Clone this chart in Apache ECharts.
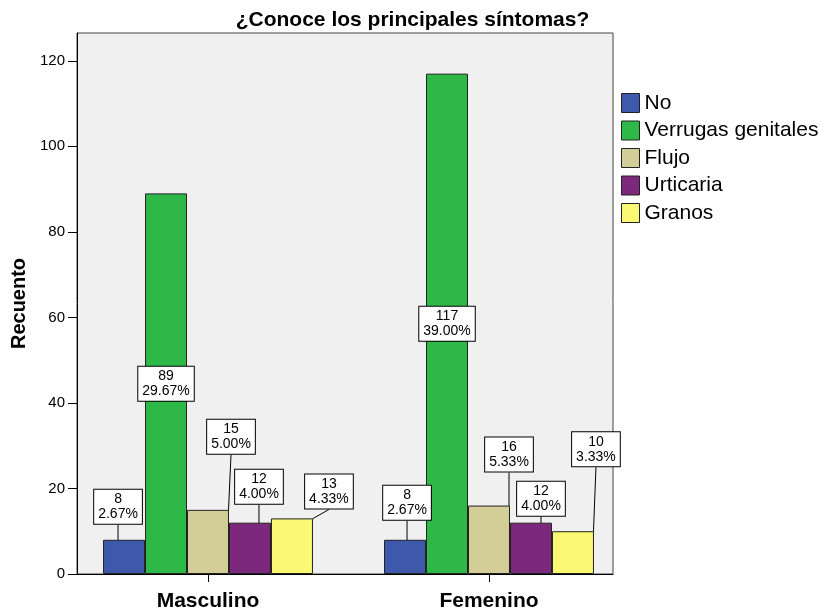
<!DOCTYPE html>
<html>
<head>
<meta charset="utf-8">
<script src="https://cdn.jsdelivr.net/npm/echarts@6/dist/echarts.min.js"></script>
<style>
  html, body { margin: 0; background: #fff; }
  #main { width: 825px; height: 611px; }
</style>
</head>
<body>
<div id="main"></div>
<script>
  // categorias y valores (recuento)
  var categories = ['Masculino', 'Femenino'];
  var seriesNames = ['No', 'Verrugas genitales', 'Flujo', 'Urticaria', 'Granos'];
  var noData = [8, 8];
  var verrugasData = [89, 117];
  var flujoData = [15, 16];
  var urticariaData = [12, 12];
  var granosData = [13, 10];
  var yTicks = [0, 20, 40, 60, 80, 100, 120];

  var allData = [noData, verrugasData, flujoData, urticariaData, granosData];
  var colors = ['#3E58AC', '#2EB848', '#D3CE97', '#7C287D', '#FBF873'];
  var total = 0;
  allData.forEach(function (arr) { arr.forEach(function (v) { total += v; }); });

  // desplazamiento de las etiquetas respecto a la barra (null = dentro)
  var labelShift = [
    [[-6, -16], [2, -20]],
    null,
    [[23, -56], [20, -34]],
    [[9, -19], [10, -7]],
    [[37, -10], [23, -65]]
  ];

  var chart = echarts.init(document.getElementById('main'));
  var font = 'Arial, "Liberation Sans", sans-serif';
  var yMax = 126.5;

  var labelBox = {
    show: true,
    formatter: function (p) {
      return p.value + '\n' + (p.value / total * 100).toFixed(2) + '%';
    },
    backgroundColor: '#fff',
    borderColor: '#000',
    borderWidth: 1,
    padding: [2, 4],
    fontSize: 14,
    lineHeight: 15,
    color: '#000',
    fontFamily: font
  };

  var series = seriesNames.map(function (name, i) {
    var s = {
      name: name,
      type: 'bar',
      xAxisIndex: 1,
      yAxisIndex: 1,
      barGap: 0,
      barCategoryGap: '25.3%',
      data: allData[i],
      itemStyle: { color: colors[i], borderColor: '#222', borderWidth: 1 },
      label: Object.assign({}, labelBox)
    };
    if (labelShift[i]) {
      s.label.position = 'top';
      s.label.distance = 0;
      s.labelLine = { show: true, lineStyle: { color: '#000', width: 1 } };
      s.labelLayout = function (p) {
        var o = labelShift[p.seriesIndex][p.dataIndex];
        return { dx: o[0], dy: o[1] };
      };
    } else {
      s.label.position = 'inside';
    }
    return s;
  });

  var option = {
    animation: false,
    backgroundColor: '#fff',
    title: {
      text: '¿Conoce los principales síntomas?',
      left: 'center',
      top: 5,
      textStyle: { fontSize: 21, fontWeight: 'bold', color: '#000', fontFamily: font }
    },
    legend: {
      orient: 'vertical',
      left: 621,
      top: 91,
      padding: 0,
      itemWidth: 18,
      itemHeight: 19,
      itemGap: 3.5,
      icon: 'rect',
      itemStyle: { borderColor: '#222', borderWidth: 1 },
      textStyle: { fontSize: 21, color: '#000', fontFamily: font, lineHeight: 24 },
      data: seriesNames
    },
    grid: [
      {
        left: 77, right: 212, top: 33, bottom: 37,
        outerBoundsMode: 'none',
        show: true, backgroundColor: '#f0f0f0',
        borderColor: '#444', borderWidth: 1
      },
      { left: 67.5, right: 195.5, top: 33, bottom: 37, outerBoundsMode: 'none' }
    ],
    xAxis: [
      {
        gridIndex: 0, type: 'category', data: categories,
        axisLine: { show: true, lineStyle: { color: '#000' } },
        axisTick: { show: false }, axisLabel: { show: false }
      },
      {
        gridIndex: 1, type: 'category', data: categories,
        axisLine: { show: false },
        axisTick: { show: true, alignWithLabel: true, length: 8, lineStyle: { color: '#000' } },
        axisLabel: { margin: 17, fontSize: 21, fontWeight: 'bold', color: '#000', fontFamily: font }
      }
    ],
    yAxis: [
      {
        gridIndex: 0, type: 'value', min: 0, max: yMax,
        name: 'Recuento', nameLocation: 'middle', nameGap: 48,
        nameTextStyle: { fontSize: 20, fontWeight: 'bold', color: '#000', fontFamily: font },
        axisLine: { show: true, lineStyle: { color: '#000' } },
        axisTick: { show: true, length: 9, customValues: yTicks, lineStyle: { color: '#000' } },
        axisLabel: { margin: 12, fontSize: 15, color: '#000', fontFamily: font, customValues: yTicks },
        splitLine: { show: false }
      },
      { gridIndex: 1, type: 'value', min: 0, max: yMax, show: false, splitLine: { show: false } }
    ],
    series: series
  };

  chart.setOption(option);
</script>
</body>
</html>
